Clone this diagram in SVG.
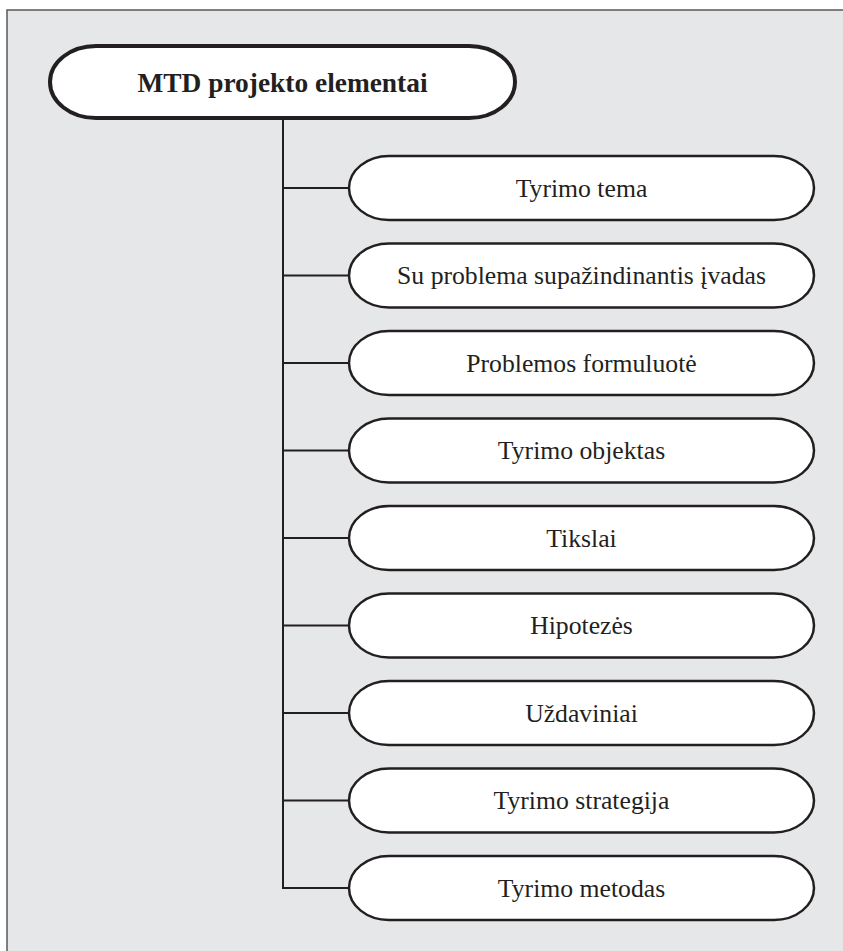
<svg xmlns="http://www.w3.org/2000/svg" width="843" height="951" viewBox="0 0 843 951">
  <style>
    .frame { fill: #e6e7e8; stroke: #58595b; stroke-width: 1.5; }
    .root { fill: #ffffff; stroke: #231f20; stroke-width: 4; }
    .item { fill: #ffffff; stroke: #231f20; stroke-width: 2.5; }
    .link { fill: none; stroke: #231f20; stroke-width: 2; }
    text { font-family: "Liberation Serif", "DejaVu Serif", serif; fill: #231f20; text-anchor: middle; }
    .title { font-size: 27.4px; font-weight: bold; }
    .label { font-size: 25.7px; }
  </style>

  <rect x="0" y="0" width="843" height="951" fill="#ffffff"/>
  <!-- panel, its right and bottom edges run past the page -->
  <rect class="frame" x="7" y="10" width="850" height="960"/>

  <!-- connectors: trunk plus one branch per item -->
  <g id="connectors">
    <path class="link" d="M283 118 V888 H349"/>
    <path class="link" d="M283 188 H349"/>
    <path class="link" d="M283 275.5 H349"/>
    <path class="link" d="M283 363 H349"/>
    <path class="link" d="M283 450.5 H349"/>
    <path class="link" d="M283 538 H349"/>
    <path class="link" d="M283 625.5 H349"/>
    <path class="link" d="M283 713 H349"/>
    <path class="link" d="M283 800.5 H349"/>
  </g>

  <g id="root">
    <rect class="root" x="50" y="46" width="465" height="72" rx="46" ry="36"/>
    <text class="title" x="282.5" y="91.5">MTD projekto elementai</text>
  </g>

  <g id="item1">
    <rect class="item" x="349" y="156" width="465" height="64" rx="40" ry="32"/>
    <text class="label" x="581.5" y="196.5">Tyrimo tema</text>
  </g>
  <g id="item2">
    <rect class="item" x="349" y="243.5" width="465" height="64" rx="40" ry="32"/>
    <text class="label" x="581.5" y="284">Su problema supažindinantis įvadas</text>
  </g>
  <g id="item3">
    <rect class="item" x="349" y="331" width="465" height="64" rx="40" ry="32"/>
    <text class="label" x="581.5" y="371.5">Problemos formuluotė</text>
  </g>
  <g id="item4">
    <rect class="item" x="349" y="418.5" width="465" height="64" rx="40" ry="32"/>
    <text class="label" x="581.5" y="459">Tyrimo objektas</text>
  </g>
  <g id="item5">
    <rect class="item" x="349" y="506" width="465" height="64" rx="40" ry="32"/>
    <text class="label" x="581.5" y="546.5">Tikslai</text>
  </g>
  <g id="item6">
    <rect class="item" x="349" y="593.5" width="465" height="64" rx="40" ry="32"/>
    <text class="label" x="581.5" y="634">Hipotezės</text>
  </g>
  <g id="item7">
    <rect class="item" x="349" y="681" width="465" height="64" rx="40" ry="32"/>
    <text class="label" x="581.5" y="721.5">Uždaviniai</text>
  </g>
  <g id="item8">
    <rect class="item" x="349" y="768.5" width="465" height="64" rx="40" ry="32"/>
    <text class="label" x="581.5" y="809">Tyrimo strategija</text>
  </g>
  <g id="item9">
    <rect class="item" x="349" y="856" width="465" height="64" rx="40" ry="32"/>
    <text class="label" x="581.5" y="896.5">Tyrimo metodas</text>
  </g>
</svg>
